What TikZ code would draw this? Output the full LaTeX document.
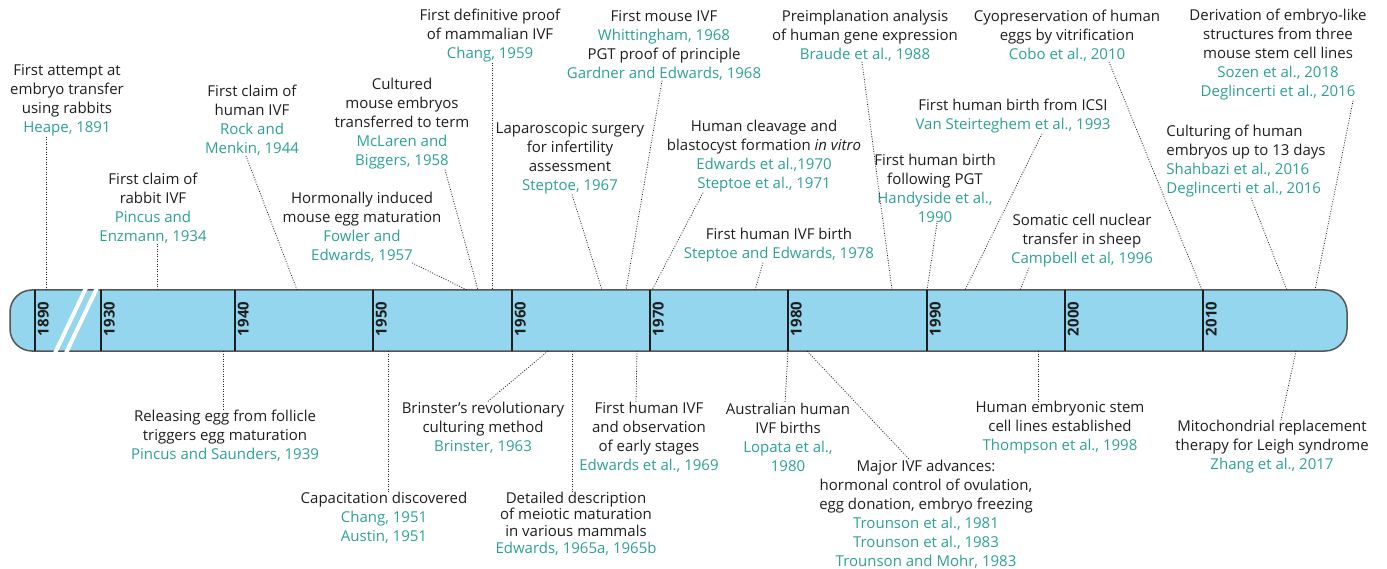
\documentclass[tikz,border=0pt]{standalone}
\usepackage{fontspec}
\setmainfont{Open Sans}
\definecolor{tlblue}{RGB}{147,214,237}
\definecolor{tlrim}{RGB}{85,85,85}
\definecolor{tlteal}{RGB}{45,160,150}
\definecolor{tlink}{RGB}{30,30,30}
\newcommand{\refc}[1]{{\color{tlteal}#1}}
\tikzset{
  evt/.style={align=center, inner sep=0pt, text=tlink, font=\fontsize{15}{19}\selectfont},
  lead/.style={line width=0.8pt, dash pattern=on 0.9pt off 1.6pt, tlink},
  yr/.style={rotate=90, anchor=north, inner sep=0pt, text=tlink, font=\fontsize{15}{15}\selectfont\bfseries},
  dec/.style={line width=2pt, tlink},
}

\begin{document}
\begin{tikzpicture}[x=1pt,y=-1pt]
        \useasboundingbox (0,0) rectangle (1387,569);
        % bar
        \draw[fill=tlblue, draw=tlrim, line width=1.5pt, rounded corners=22pt] (10,290) rectangle (1347,351);
        \foreach \yr/\x in {1890/35,1930/101,1940/235,1950/373,1960/512,1970/650,1980/788,1990/927,2000/1065,2010/1203}{
          \draw[dec] (\x,290) -- (\x,351);
          \node[yr] (y\yr) at (\x+2.5,319) {\yr};
        }
        \draw[white, line width=4pt] (55,353) -- (86,288) (66,353) -- (97,288);
        % top events
        \node[evt] (heape) at (67,100.5) {First attempt at\\embryo transfer\\using rabbits\\\refc{Heape, 1891}};
        \node[evt] (pincusa) at (153,208.5) {First claim of\\rabbit IVF\\\refc{Pincus and}\\\refc{Enzmann, 1934}};
        \node[evt] (rock) at (252,120.5) {First claim of\\human IVF\\\refc{Rock and}\\\refc{Menkin, 1944}};
        \node[evt] (mclaren) at (402,124) {Cultured\\mouse embryos\\transferred to term\\\refc{McLaren and}\\\refc{Biggers, 1958}};
        \node[evt] (fowler) at (362,227.5) {Hormonally induced\\mouse egg maturation\\\refc{Fowler and}\\\refc{Edwards, 1957}};
        \node[evt] (changb) at (490,36) {First definitive proof\\of mammalian IVF\\\refc{Chang, 1959}};
        \node[evt] (whitt) at (664,45.5) {First mouse IVF\\\refc{Whittingham, 1968}\\PGT proof of principle\\\refc{Gardner and Edwards, 1968}};
        \node[evt] (laparo) at (570,158.5) {Laparoscopic surgery\\for infertility\\assessment\\\refc{Steptoe, 1967}};
        \node[evt] (cleave) at (764,156.5) {Human cleavage and\\blastocyst formation \textit{in vitro}\\\refc{Edwards et al.,1970}\\\refc{Steptoe et al., 1971}};
        \node[evt] (ivfbirth) at (779,245.5) {First human IVF birth\\\refc{Steptoe and Edwards, 1978}};
        \node[evt] (braude) at (865,36) {Preimplanation analysis\\of human gene expression\\\refc{Braude et al., 1988}};
        \node[evt] (cobo) at (1067,36) {Cyopreservation of human\\eggs by vitrification\\\refc{Cobo et al., 2010}};
        \node[evt] (sozen) at (1278,55) {Derivation of embryo-like\\structures from three\\mouse stem cell lines\\\refc{Sozen et al., 2018}\\\refc{Deglincerti et al., 2016}};
        \node[evt] (icsi) at (1013,116.5) {First human birth from ICSI\\\refc{Van Steirteghem et al., 1993}};
        \node[evt] (handy) at (935,188.5) {First human birth\\following PGT\\\refc{Handyside et al.,}\\\refc{1990}};
        \node[evt] (dolly) at (1082,241) {Somatic cell nuclear\\transfer in sheep\\\refc{Campbell et al, 1996}};
        \node[evt, align=left] (shahbazi) at (1246,161.5) {Culturing of human\\embryos up to 13 days\\\refc{Shahbazi et al., 2016}\\\refc{Deglincerti et al., 2016}};
        % bottom events
        \node[evt] (pincusb) at (225,436) {Releasing egg from follicle\\triggers egg maturation\\\refc{Pincus and Saunders, 1939}};
        \node[evt] (capac) at (384,518) {Capacitation discovered\\\refc{Chang, 1951}\\\refc{Austin, 1951}};
        \node[evt] (brinster) at (483,428) {Brinster’s revolutionary\\culturing method\\\refc{Brinster, 1963}};
        \node[evt, font=\fontsize{15}{16.8}\selectfont] (meiotic) at (576,523.5) {Detailed description\\of meiotic maturation\\in various mammals\\\refc{Edwards, 1965a, 1965b}};
        \node[evt] (edwc) at (649,437.5) {First human IVF\\and observation\\of early stages\\\refc{Edwards et al., 1969}};
        \node[evt] (lopata) at (788,437.5) {Australian human\\IVF births\\\refc{Lopata et al.,}\\\refc{1980}};
        \node[evt] (trounson) at (926,514.5) {Major IVF advances:\\hormonal control of ovulation,\\egg donation, embryo freezing\\\refc{Trounson et al., 1981}\\\refc{Trounson et al., 1983}\\\refc{Trounson and Mohr, 1983}};
        \node[evt] (thompson) at (1060,428) {Human embryonic stem\\cell lines established\\\refc{Thompson et al., 1998}};
        \node[evt] (zhang) at (1272,447) {Mitochondrial replacement\\therapy for Leigh syndrome\\\refc{Zhang et al., 2017}};
        % leaders
        \foreach \n/\dx/\bx in {heape/-21/46,pincusa/4/157,rock/-6/297,mclaren/43/478,fowler/50/467,changb/2/492,whitt/-2/626,laparo/2/602,cleave/-61/652,ivfbirth/-16/755,braude/-3/892,cobo/42/1202,sozen/75/1315,icsi/29/965,handy/2/927,dolly/-53/1020,shahbazi/5/1287}{
          \coordinate (on-\n) at (\bx,290);
          \draw[lead] ([xshift=\dx pt]\n.south) -- (on-\n);
        }
        \foreach \n/\bx/\dx in {pincusb/223/-2,capac/388/4,brinster/548/4,meiotic/572/-4,edwc/637/-13,lopata/788/-3,trounson/807/-16,thompson/1038/-22,zhang/1296/9}{
          \coordinate (on-\n) at (\bx,351);
          \draw[lead] (on-\n) -- ([xshift=\dx pt]\n.north);
        }
    \end{tikzpicture}
\end{document}
